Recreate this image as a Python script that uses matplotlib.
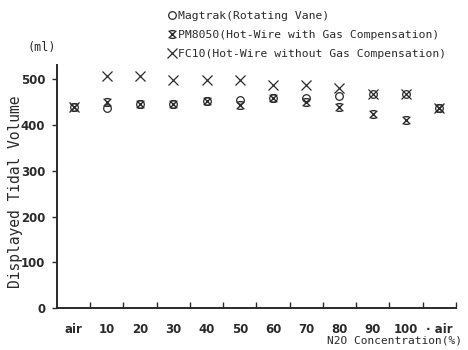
import matplotlib
matplotlib.use("Agg")
import matplotlib.pyplot as plt
import numpy as np
from matplotlib.path import Path

# N2O concentration steps (air -> 10..100 % -> back to air)
categories = ["air", "10", "20", "30", "40", "50", "60", "70", "80", "90", "100", "\u00b7 air"]
magtrak = [440, 437, 447, 447, 453, 455, 460, 460, 463, 468, 468, 437]
pm8050 = [440, 450, 447, 447, 453, 443, 460, 450, 440, 425, 410, 437]
fc10 = [440, 508, 508, 498, 498, 498, 488, 488, 482, 468, 468, 437]
yticks = [0, 100, 200, 300, 400, 500]

labels = ["Magtrak(Rotating Vane)",
          "PM8050(Hot-Wire with Gas Compensation)",
          "FC10(Hot-Wire without Gas Compensation)"]

INK = "#2a2a2a"
MONO = ["DejaVu Sans Mono"]
NARROW = ["Liberation Sans Narrow", "DejaVu Sans"]

# X with small bars on top and bottom (PM8050 symbol)
XBAR = Path([(-1, -1), (1, 1), (-1, 1), (1, -1),
             (-0.6, 1), (0.6, 1), (-0.6, -1), (0.6, -1)],
            [Path.MOVETO, Path.LINETO] * 4)

fig = plt.figure(figsize=(4.68, 3.5), dpi=100)
ax = fig.add_axes([0.1218, 0.12, 0.852, 0.694])

x = np.arange(len(categories))
h_fc, = ax.plot(x, fc10, ls="none", marker="x", ms=6.5, mew=0.9, color=INK)
h_mg, = ax.plot(x, magtrak, ls="none", marker="o", ms=5.5, mew=0.9,
                mfc="none", mec=INK)
h_pm, = ax.plot(x, pm8050, ls="none", marker=XBAR, ms=5.5, mew=1.0,
                mfc="none", mec=INK)

ax.set_xlim(-0.5, len(categories) - 0.5)
ax.set_ylim(0, 531)

for s in ["top", "right"]:
    ax.spines[s].set_visible(False)
for s in ["left", "bottom"]:
    ax.spines[s].set_linewidth(1.4)
    ax.spines[s].set_color(INK)

# tick marks sit between categories, labels under the categories
ax.set_xticks(x + 0.5)
ax.set_xticklabels([])
ax.set_xticks(x, minor=True)
ax.set_xticklabels(categories, minor=True, family=NARROW, fontsize=8.5,
                   fontweight="bold", color=INK)
ax.tick_params(axis="x", which="major", direction="in", length=4, width=1, color=INK)
ax.tick_params(axis="x", which="minor", length=0, pad=11)

ax.set_yticks(yticks)
ax.set_yticklabels([str(v) for v in yticks], family=NARROW, fontsize=8.5,
                   fontweight="bold", color=INK)
ax.tick_params(axis="y", direction="out", length=3.5, width=1, color=INK, pad=5)

ax.set_ylabel("Displayed Tidal Volume", family=MONO, fontsize=10.5, color=INK)
ax.yaxis.set_label_coords(-0.085, 0.48)
fig.text(0.058, 0.865, "(ml)", family=MONO, fontsize=8.5, color=INK,
         ha="left", va="center")
fig.text(0.988, 0.028, "N2O Concentration(%)", family=MONO, fontsize=8,
         color=INK, ha="right", va="center")

fig.legend([h_mg, h_pm, h_fc], labels, loc="upper left",
           bbox_to_anchor=(0.35, 0.983), frameon=False,
           prop={"family": MONO, "size": 8.2},
           handlelength=0.6, handletextpad=0.25, labelspacing=0.8,
           labelcolor=INK, borderaxespad=0)

fig.savefig("out.png", dpi=100)
